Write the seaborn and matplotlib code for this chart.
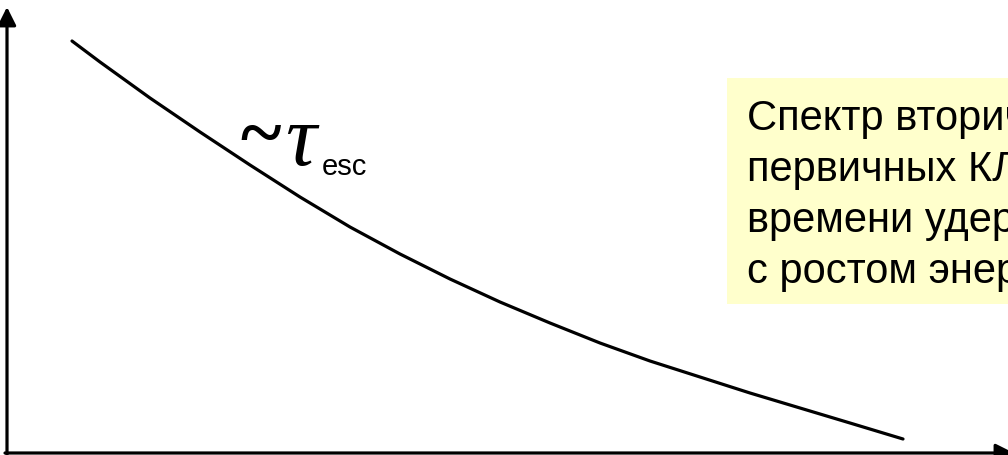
# Схема: спектр вторичных ядер ~ tau_esc

import pandas as pd
import matplotlib
matplotlib.use("Agg")
import matplotlib.pyplot as plt
from matplotlib.patches import Rectangle
import seaborn as sns

# Данные кривой (энергия -> поток, в условных единицах)
energy = [72, 100, 150, 200, 250, 300, 350, 400, 450, 500, 550, 600, 650, 700,
          750, 800, 850, 903]
flux = [414, 393, 357, 323, 290, 258, 228, 201, 176, 153, 132, 112, 94, 78,
        62, 47, 32, 16]

curve_label = "τ"
curve_sub = "esc"
note_lines = [
    "Спектр вторичных ядер",
    "первичных КЛ вследствие",
    "времени удержания",
    "с ростом энергии",
]


def draw_chart():
    sns.set_theme(style="white")
    plt.rcParams["font.family"] = ["Liberation Sans", "DejaVu Sans"]

    fig = plt.figure(figsize=(10.08, 4.55), dpi=100)
    ax = fig.add_axes([0, 0, 1, 1])

    df = pd.DataFrame({"energy": energy, "flux": flux})
    sns.lineplot(data=df, x="energy", y="flux", color="black", linewidth=2.3, ax=ax)

    ax.set_xlim(0, 1008)
    ax.set_ylim(0, 455)
    ax.set_axis_off()

    # Оси со стрелками
    arrow = dict(arrowstyle="-|>,head_length=1.1,head_width=0.55", color="black",
                 lw=2.3, mutation_scale=10, shrinkA=0, shrinkB=0)
    ax.annotate("", xy=(7, 448), xytext=(7, -5), arrowprops=arrow)
    ax.annotate("", xy=(1014, 2), xytext=(5, 2), arrowprops=arrow, annotation_clip=False)

    # Подпись кривой
    ax.text(240, 297, "~", fontsize=56, family="Liberation Serif",
            fontweight="bold", color="black")
    ax.text(285, 290, curve_label, fontsize=62, family="Liberation Serif",
            style="italic", color="black")
    ax.text(322, 280, curve_sub, fontsize=21, color="black")

    # Жёлтая плашка с текстом
    ax.add_patch(Rectangle((727, 151), 400, 226, facecolor="#FFFFCC",
                           edgecolor="none", zorder=1))
    for i, line in enumerate(note_lines):
        ax.text(747, 325 - 51 * i, line, fontsize=30, color="black",
                va="baseline", zorder=2)

    fig.savefig("out.png", dpi=100)


if __name__ == "__main__":
    draw_chart()
